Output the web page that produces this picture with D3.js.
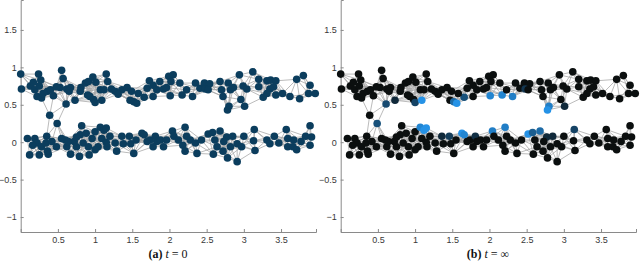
<!DOCTYPE html>
<html><head><meta charset="utf-8">
<script src="https://cdn.jsdelivr.net/npm/d3@7"></script>
<style>body{margin:0;background:#fff}svg{display:block}</style>
</head><body>
<svg id="c" width="640" height="264"></svg>
<script>
// node positions (x, y) — top community
const topNodes = [
[0.00,0.91],[0.01,0.71],[0.13,0.75],[0.17,0.80],[0.24,0.91],[0.27,0.83],[0.19,0.70],[0.22,0.61],[0.28,0.59],[0.30,0.65],
[0.36,0.68],[0.44,0.62],[0.25,0.75],[0.55,0.96],[0.57,0.85],[0.53,0.73],[0.61,0.51],[0.62,0.71],[0.67,0.73],[0.73,0.56],
[0.65,0.68],[0.81,0.73],[0.87,0.79],[0.91,0.81],[0.97,0.87],[1.01,0.80],[0.90,0.63],[0.93,0.61],[0.98,0.57],[1.00,0.53],
[1.07,0.70],[1.09,0.56],[1.15,0.91],[1.17,0.81],[1.22,0.71],[1.27,0.68],[1.12,0.70],[1.36,0.70],[1.43,0.73],[1.47,0.56],
[1.52,0.54],[1.56,0.52],[1.49,0.68],[1.66,0.60],[1.70,0.72],[1.73,0.82],[1.78,0.76],[1.83,0.70],[1.87,0.81],[1.92,0.71],
[1.99,0.88],[2.05,0.90],[2.02,0.81],[2.01,0.62],[2.14,0.79],[2.17,0.63],[2.31,0.61],[2.35,0.79],[2.41,0.72],[2.47,0.79],
[2.54,0.78],[2.48,0.71],[2.68,0.81],[2.70,0.70],[2.79,0.79],[2.82,0.70],[2.86,0.73],[2.94,0.90],[2.99,0.75],[2.96,0.57],
[3.01,0.48],[2.80,0.48],[2.78,0.43],[3.12,0.94],[3.20,0.84],[3.20,0.74],[3.26,0.60],[3.31,0.82],[3.36,0.83],[3.43,0.82],
[3.35,0.71],[3.43,0.63],[3.52,0.65],[3.62,0.61],[3.71,0.84],[3.80,0.89],[3.75,0.58],[3.89,0.76],[3.87,0.65],[3.96,0.65],
[3.31,0.65],[3.40,0.74],[2.23,0.70],[1.78,0.61],[0.80,0.68],[0.40,0.70],[0.48,0.74],[2.72,0.61],[3.04,0.71],[1.31,0.64],
[2.52,0.70],[1.96,0.73],[1.58,0.65]
];
// bridge nodes between the communities
const bridgeNodes = [[0.39,0.36],[0.49,0.25]];
// bottom community
const bottomNodes = [
[0.09,0.05],[0.12,-0.17],[0.19,0.05],[0.22,-0.01],[0.25,-0.17],[0.28,-0.06],[0.35,0.08],[0.34,-0.01],[0.37,-0.16],[0.36,-0.12],
[0.48,-0.06],[0.55,0.05],[0.60,0.03],[0.62,-0.06],[0.67,-0.16],[0.72,0.01],[0.75,-0.06],[0.79,-0.19],[0.82,0.22],[0.80,0.10],
[0.84,-0.01],[0.88,0.12],[0.91,-0.06],[0.92,-0.17],[0.96,0.05],[1.00,0.14],[1.04,-0.06],[1.07,0.20],[1.12,0.16],[1.15,0.19],
[1.09,0.05],[1.15,0.00],[1.20,0.08],[1.16,-0.06],[1.29,-0.12],[1.36,0.08],[1.38,-0.02],[1.46,0.08],[1.48,-0.02],[1.52,-0.15],
[1.55,0.03],[1.63,0.12],[1.66,0.10],[1.74,0.03],[1.81,0.08],[1.83,0.01],[1.92,-0.06],[1.88,0.03],[1.96,0.03],[2.04,0.15],
[2.06,0.08],[2.18,-0.04],[2.21,0.20],[2.21,-0.12],[2.28,0.03],[2.37,-0.15],[2.35,-0.01],[2.43,0.03],[2.52,0.11],[2.58,0.13],
[2.68,0.15],[2.61,0.03],[2.59,-0.16],[2.64,-0.06],[2.72,-0.12],[2.77,0.07],[2.78,-0.21],[2.82,-0.06],[2.85,0.08],[2.91,-0.02],
[2.91,-0.26],[3.00,0.08],[3.14,0.17],[3.13,0.02],[3.15,-0.11],[3.31,0.03],[3.35,-0.02],[3.41,0.08],[3.47,-0.01],[3.57,0.17],
[3.59,0.05],[3.59,-0.06],[3.66,-0.06],[3.71,-0.10],[3.77,0.01],[3.83,0.08],[3.89,0.22],[3.91,0.07],[3.89,-0.04],[3.67,0.03],
[2.97,-0.06],[1.78,-0.06],[1.70,0.01],[1.27,-0.01],[1.00,-0.10],[0.75,0.07],[0.64,0.01],[0.42,0.01],[0.16,-0.04],[2.73,0.01],
[2.23,0.08],[2.12,0.03]
];
// final state (t = ∞) values of non-zero nodes, keyed by coordinate: 0 = black, 1 = bright blue
const finalState = [
["0.61,0.51",0.45],["0.73,0.56",0.2],["1,0.53",0.4],["1.09,0.56",1.0],["1.52,0.54",0.7],["1.56,0.52",1.0],["1.66,0.6",0.5],
["2.01,0.62",0.9],["2.17,0.63",0.9],["2.31,0.61",0.85],["2.48,0.71",0.3],["2.8,0.48",0.85],["2.78,0.43",1.0],["3.01,0.48",0.2],
["0.49,0.25",0.5],["1.07,0.2",0.9],["1.12,0.16",1.0],["1.15,0.19",1.0],["1.36,0.08",0.2],["1.46,0.08",0.35],["1.63,0.12",1.0],
["1.66,0.1",0.9],["1.81,0.08",0.25],["2.04,0.15",0.85],["2.21,0.2",0.85],["2.52,0.11",1.0],["2.58,0.13",0.6],["2.68,0.15",0.7],
["2.77,0.07",0.2],["2.85,0.08",0.2],["3.14,0.17",0.4]
];
const xTicks = [0.5,1,1.5,2,2.5,3,3.5];
const yTicks = [-1,-0.5,0,0.5,1,1.5];
const captions = [["(a)"," t = 0"],["(b)"," t = ∞"]];

const nodes = [...topNodes, ...bridgeNodes, ...bottomNodes];
const fmap = new Map(finalState);
const key = d => `${+d[0].toFixed(2)},${+d[1].toFixed(2)}`;

const svg = d3.select("#c");
const x = d3.scaleLinear().domain([0, 3.97]).range([20.7, 316]);
const y = d3.scaleLinear().domain([-1.2, 1.9]).range([232, 0]);
const col = d3.interpolateRgb("#0b0f0f", "#2592e6");

// edges: geometric graph from node proximity
const R = 0.29;
const edges = [];
for (let i = 0; i < nodes.length; i++) for (let j = i + 1; j < nodes.length; j++) {
  const dx = nodes[i][0] - nodes[j][0], dy = nodes[i][1] - nodes[j][1];
  if (Math.hypot(dx, dy) < R) edges.push([nodes[i], nodes[j]]);
}

[0, 1].forEach(p => {
  const g = svg.append("g").attr("transform", `translate(${p * 320},0)`);
  const ax = g.append("g").attr("transform", `translate(0,${y(-1.2)})`)
    .call(d3.axisBottom(x).tickValues(xTicks).tickSize(-3).tickPadding(5).tickFormat(d3.format("")));
  const ay = g.append("g").attr("transform", `translate(${x(0)},0)`)
    .call(d3.axisLeft(y).tickValues(yTicks).tickSize(-3).tickPadding(4).tickFormat(d3.format("")));
  [ax, ay].forEach(a => {
    a.select(".domain").attr("stroke", "#8a8a8a").attr("stroke-width", 1);
    a.selectAll(".tick line").attr("stroke", "#8a8a8a");
    a.selectAll(".tick text").attr("fill", "#383838").attr("font-family", "Liberation Sans, Arial, sans-serif").attr("font-size", 9);
  });
  g.append("g").selectAll("line").data(edges).join("line")
    .attr("x1", d => x(d[0][0])).attr("y1", d => y(d[0][1]))
    .attr("x2", d => x(d[1][0])).attr("y2", d => y(d[1][1]))
    .attr("stroke", "#a4a4a4").attr("stroke-width", 0.75);
  g.append("g").selectAll("circle").data(nodes).join("circle")
    .attr("cx", d => x(d[0])).attr("cy", d => y(d[1])).attr("r", 3.8)
    .attr("fill", d => p === 0 ? "#0b3d5d" : col(fmap.get(key(d)) || 0));
  const t = g.append("text").attr("x", 168).attr("y", 258).attr("text-anchor", "middle")
    .attr("font-family", "Liberation Serif, Times New Roman, serif").attr("font-size", 12).attr("fill", "#111");
  t.append("tspan").attr("font-weight", "bold").text(captions[p][0]);
  t.append("tspan").attr("font-style", "italic").text(captions[p][1].slice(0, 2));
  t.append("tspan").text(captions[p][1].slice(2));
});
</script>
</body></html>
